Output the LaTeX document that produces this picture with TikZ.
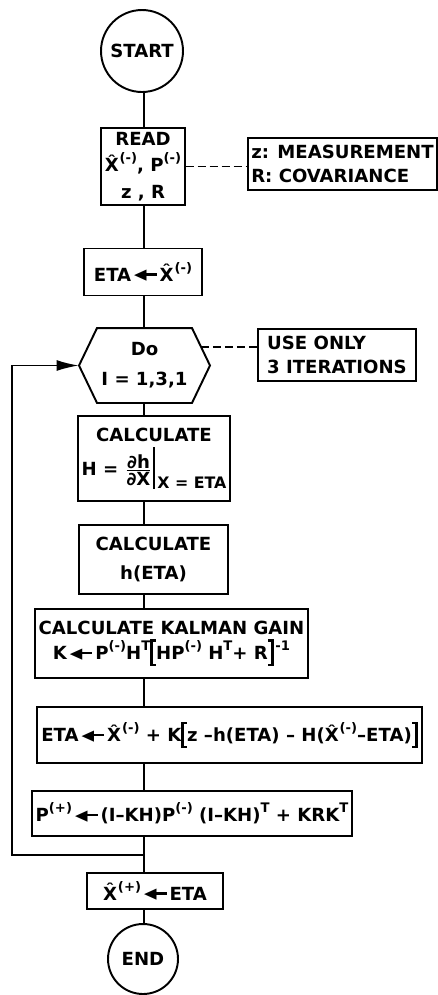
\documentclass[tikz,border=0pt]{standalone}
\usepackage{fontspec}
\setmainfont{DejaVu Sans}
\usetikzlibrary{arrows.meta,calc}

\newcommand{\xhat}{X̂\kern0.05em}
\newcommand{\up}[1]{\raisebox{0.5em}{\fontsize{7.5}{8}\selectfont #1}}
\newcommand{\getsarrow}{\,\raisebox{-0.05em}{\scalebox{0.9}[1.25]{◄}}\kern-0.3em\rule[0.3em]{0.85em}{0.13em}\,}
\newcommand{\lbrk}{\rlap{\rule[-0.35em]{0.3em}{0.12em}}\rlap{\rule[0.98em]{0.3em}{0.12em}}\rule[-0.35em]{0.12em}{1.45em}\kern0.2em}
\newcommand{\rbrk}{\kern0.2em\rule[-0.35em]{0.12em}{1.45em}\llap{\rule[-0.35em]{0.3em}{0.12em}}\llap{\rule[0.98em]{0.3em}{0.12em}}}

\begin{document}
\begin{tikzpicture}[x=0.02cm,y=-0.02cm]

\tikzset{terminal/.style = {shape=circle,draw,line width=1.1pt,font=\fontsize{10.3}{14}\selectfont\bfseries,inner sep=1pt}}
\tikzset{block/.style = {shape=rectangle,draw,line width=1.1pt,font=\fontsize{10.3}{14}\selectfont\bfseries,align=center,inner sep=2pt}}
\tikzset{note/.style = {block,align=left}}
\tikzset{edge/.style = {line width=1.1pt}}
\tikzset{flow/.style = {edge,-{Latex[length=0.45cm,width=0.22cm]}}}
\tikzset{dashline/.style = {line width=1pt,dash pattern=on 0.16cm off 0.08cm}}

\useasboundingbox (0,0) rectangle (437,995);
\coordinate (axis) at (144,0);

%blocks
\node[terminal, minimum size=1.64cm] (start) at (142,51) {START};
\node[block, minimum width=1.6cm, minimum height=1.54cm] (read) at (143,166.5)
  {READ\\[1pt] \xhat\up{(-)}, P\up{(-)}\\[1pt] z , R};
\node[note, minimum width=3.72cm, minimum height=1.04cm] (meas) at (342.5,164)
  {z: MEASUREMENT\\ R: COVARIANCE};
\node[block, minimum width=2.36cm, minimum height=0.94cm] (eta) at (143,272)
  {ETA\getsarrow\xhat\up{(-)}};
\node[block, draw=none, minimum width=1.5cm, minimum height=1.46cm] (do) at (144.5,365.5)
  {Do\\[3pt] I = 1,3,1};
\node[note, minimum width=3.16cm, minimum height=1.04cm] (iter) at (337,355)
  {USE ONLY\\ 3 ITERATIONS};
\node[block, minimum width=3.0cm, minimum height=1.7cm] (calch) at (154,458.5)
  {CALCULATE\\[2pt] H = $\frac{\mbox{∂h}}{\mbox{∂X}}$\rule[-0.75em]{0.12em}{2.3em}\raisebox{-0.75em}{\fontsize{9}{10}\selectfont\,X = ETA}};
\node[block, minimum width=2.98cm, minimum height=1.38cm] (calchh) at (153.5,559.5)
  {CALCULATE\\[3pt] h(ETA)};
\node[block, minimum width=5.42cm, minimum height=1.38cm] (kal) at (171.5,643.5)
  {CALCULATE KALMAN GAIN\\ K\getsarrow P\up{(-)}H\up{T}\lbrk HP\up{(-)} H\up{T}+ R\rbrk\kern0.1em\up{-1}};
\node[block, minimum width=7.7cm, minimum height=1.12cm] (etaup) at (229.5,735)
  {ETA\getsarrow\xhat\up{(-)} + K\lbrk z --h(ETA) -- H(\xhat\up{(-)}--ETA)\rbrk};
\node[block, minimum width=6.16cm, minimum height=0.9cm] (pup) at (192,813.5)
  {P\up{(+)}\getsarrow(I--KH)P\up{(-)} (I--KH)\up{T} + KRK\up{T}};
\node[block, minimum width=2.72cm, minimum height=0.72cm] (xplus) at (155,891)
  {\xhat\up{(+)}\getsarrow ETA};
\node[terminal, minimum size=1.4cm] (end) at (143,959) {END};

%hexagon
\draw[edge] (do.north west) -- (do.north east) -- ($(do.east)+(18,0)$) -- (do.south east)
  -- (do.south west) -- ($(do.west)+(-18,0)$) -- cycle;
\coordinate (dotip) at ($(do.west)+(-18,0)$);
\coordinate (doedge) at ($(do.north east)!0.5!(do.east)+(9,0)$);

%edges
\foreach \a/\b in {start/read, read/eta, eta/do, do/calch, calch/calchh,
  calchh/kal, kal/etaup, etaup/pup, pup/xplus, xplus/end}
  \draw[edge] (\a.south -| axis) -- (\b.north -| axis);
\draw[dashline] (read.east) -- (read.east -| meas.west);
\draw[dashline] (doedge) -- (doedge -| iter.west);
\coordinate (back) at (12,855);
\draw[flow] (back -| axis) -- (back) |- (dotip);

\end{tikzpicture}
\end{document}
